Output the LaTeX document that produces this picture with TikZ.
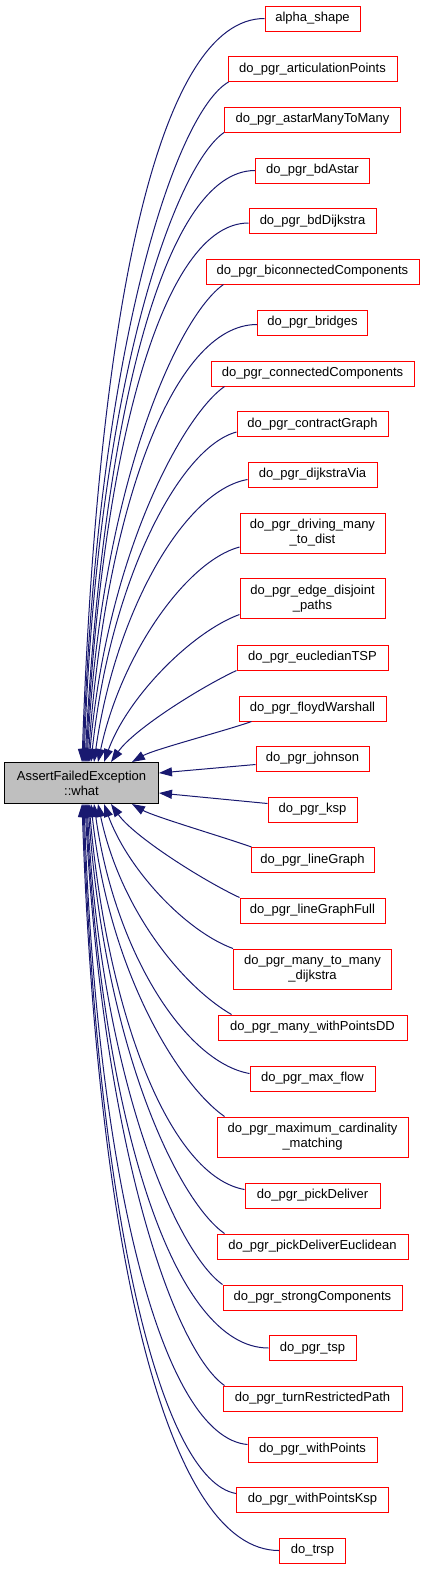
\documentclass[tikz,border=0pt]{standalone}
\usepackage{fontspec}
\setmainfont{Liberation Sans}
\usepackage{tikz}
\usetikzlibrary{arrows.meta, positioning}
\definecolor{edgeblue}{RGB}{25,25,112}
\definecolor{boxred}{RGB}{255,0,0}
\definecolor{boxgray}{RGB}{191,191,191}
\tikzset{
  fnbox/.style={rectangle, draw=boxred, fill=white, line width=1pt,
    minimum height=25pt, inner sep=0pt, align=center,
    font=\fontsize{13}{15}\selectfont},
  fnboxtwo/.style={fnbox, minimum height=40pt},
  mainbox/.style={rectangle, draw=black, fill=boxgray, line width=1pt,
    minimum height=41pt, inner sep=0pt, align=center,
    font=\fontsize{13}{15}\selectfont},
  calledge/.style={-{Triangle[length=13pt,width=9pt]}, line width=1pt, color=edgeblue}
}
\begin{document}
\begin{tikzpicture}[x=1pt, y=1pt]
  \useasboundingbox (0,0) rectangle (424,-1569);

  % Called function
  \node[mainbox, minimum width=154pt] (what) at (81.5,-783) {AssertFailedException\\::what};

  % Callers
  \node[fnbox, minimum width=95pt] (alpha) at (312.5,-18.5) {alpha\_shape};
  \node[fnbox, minimum width=169pt] (artic) at (312.5,-69) {do\_pgr\_articulationPoints};
  \node[fnbox, minimum width=176pt] (astar) at (312.5,-119.5) {do\_pgr\_astarManyToMany};
  \node[fnbox, minimum width=114pt] (bdastar) at (312.5,-170.5) {do\_pgr\_bdAstar};
  \node[fnbox, minimum width=127pt] (bddijk) at (312.5,-221) {do\_pgr\_bdDijkstra};
  \node[fnbox, minimum width=213pt] (biconn) at (312.5,-271.5) {do\_pgr\_biconnectedComponents};
  \node[fnbox, minimum width=110pt] (bridges) at (312.5,-322.5) {do\_pgr\_bridges};
  \node[fnbox, minimum width=203pt] (conncomp) at (312.5,-373.5) {do\_pgr\_connectedComponents};
  \node[fnbox, minimum width=151pt] (contract) at (312.5,-424) {do\_pgr\_contractGraph};
  \node[fnbox, minimum width=129pt] (dijkvia) at (312.5,-474.5) {do\_pgr\_dijkstraVia};
  \node[fnboxtwo, minimum width=145pt] (driving) at (312.5,-533) {do\_pgr\_driving\_many\\\_to\_dist};
  \node[fnboxtwo, minimum width=145pt] (edgedisj) at (312.5,-598.5) {do\_pgr\_edge\_disjoint\\\_paths};
  \node[fnbox, minimum width=151pt] (euclid) at (312.5,-657.5) {do\_pgr\_eucledianTSP};
  \node[fnbox, minimum width=147pt] (floyd) at (312.5,-708.5) {do\_pgr\_floydWarshall};
  \node[fnbox, minimum width=113pt] (johnson) at (312.5,-758.5) {do\_pgr\_johnson};
  \node[fnbox, minimum width=89pt] (ksp) at (312.5,-809.5) {do\_pgr\_ksp};
  \node[fnbox, minimum width=123pt] (linegraph) at (312.5,-860) {do\_pgr\_lineGraph};
  \node[fnbox, minimum width=145pt] (linegraphfull) at (312.5,-910.5) {do\_pgr\_lineGraphFull};
  \node[fnboxtwo, minimum width=158pt] (manydijk) at (312.5,-969) {do\_pgr\_many\_to\_many\\\_dijkstra};
  \node[fnbox, minimum width=189pt] (manywp) at (312.5,-1027.5) {do\_pgr\_many\_withPointsDD};
  \node[fnbox, minimum width=125pt] (maxflow) at (312.5,-1078.5) {do\_pgr\_max\_flow};
  \node[fnboxtwo, minimum width=191pt] (maxcard) at (312.5,-1137) {do\_pgr\_maximum\_cardinality\\\_matching};
  \node[fnbox, minimum width=135pt] (pickdel) at (312.5,-1195.5) {do\_pgr\_pickDeliver};
  \node[fnbox, minimum width=191pt] (pickdeleuc) at (312.5,-1246.5) {do\_pgr\_pickDeliverEuclidean};
  \node[fnbox, minimum width=179pt] (strongcomp) at (312.5,-1297.5) {do\_pgr\_strongComponents};
  \node[fnbox, minimum width=87pt] (tsp) at (312.5,-1348) {do\_pgr\_tsp};
  \node[fnbox, minimum width=179pt] (turnrestr) at (312.5,-1398.5) {do\_pgr\_turnRestrictedPath};
  \node[fnbox, minimum width=129pt] (withpts) at (312.5,-1449.5) {do\_pgr\_withPoints};
  \node[fnbox, minimum width=152pt] (withptsksp) at (312.5,-1499.5) {do\_pgr\_withPointsKsp};
  \node[fnbox, minimum width=66pt] (trsp) at (312.5,-1550.5) {do\_trsp};

  % Calls into the top side
  \draw[calledge] (alpha.west) to[out=180, in=88, out distance=105pt, in distance=460pt] ([xshift=78pt]what.north west);
  \draw[calledge] ([xshift=1pt]artic.south west) to[out=210, in=88, out distance=60pt, in distance=420pt] ([xshift=79pt]what.north west);
  \draw[calledge] (astar.south west) to[out=215, in=88, out distance=60pt, in distance=380pt] ([xshift=80pt]what.north west);
  \draw[calledge] (bdastar.west) to[out=180, in=87, out distance=90pt, in distance=350pt] ([xshift=81pt]what.north west);
  \draw[calledge] ([yshift=-2pt]bddijk.west) to[out=180, in=87, out distance=85pt, in distance=320pt] ([xshift=82pt]what.north west);
  \draw[calledge] ([xshift=18pt]biconn.south west) to[out=215, in=87, out distance=55pt, in distance=280pt] ([xshift=83pt]what.north west);
  \draw[calledge] ([yshift=-2pt]bridges.west) to[out=180, in=86, out distance=85pt, in distance=250pt] ([xshift=84pt]what.north west);
  \draw[calledge] ([xshift=14pt]conncomp.south west) to[out=215, in=85, out distance=50pt, in distance=210pt] ([xshift=85pt]what.north west);
  \draw[calledge] ([yshift=-8pt]contract.west) to[out=195, in=84, out distance=60pt, in distance=180pt] ([xshift=87pt]what.north west);
  \draw[calledge] ([yshift=-5pt]dijkvia.west) to[out=190, in=82, out distance=65pt, in distance=150pt] ([xshift=90pt]what.north west);
  \draw[calledge] ([yshift=-14pt]driving.west) to[out=195, in=78, out distance=55pt, in distance=110pt] ([xshift=94pt]what.north west);
  \draw[calledge] ([yshift=-16pt]edgedisj.west) to[out=200, in=70, out distance=50pt, in distance=70pt] ([xshift=100pt]what.north west);
  \draw[calledge] (euclid.south west) to[out=205, in=55, out distance=40pt, in distance=40pt] ([xshift=107pt]what.north west);
  \draw[calledge] ([xshift=13pt]floyd.south west) to[out=200, in=30, out distance=25pt, in distance=25pt] ([xshift=128pt]what.north west);

  % Calls into the right side
  \draw[calledge] ([yshift=-6pt]johnson.west) -- ([yshift=10pt]what.east);
  \draw[calledge] ([yshift=6pt]ksp.west) -- ([yshift=-10pt]what.east);

  % Calls into the bottom side
  \draw[calledge] ([xshift=1pt]linegraph.north west) to[out=160, in=-30, out distance=25pt, in distance=25pt] ([xshift=128pt]what.south west);
  \draw[calledge] (linegraphfull.north west) to[out=155, in=-55, out distance=40pt, in distance=40pt] ([xshift=107pt]what.south west);
  \draw[calledge] (manydijk.north west) to[out=160, in=-70, out distance=50pt, in distance=70pt] ([xshift=100pt]what.south west);
  \draw[calledge] ([xshift=14pt]manywp.north west) to[out=150, in=-78, out distance=55pt, in distance=110pt] ([xshift=94pt]what.south west);
  \draw[calledge] ([yshift=5pt]maxflow.west) to[out=170, in=-82, out distance=65pt, in distance=150pt] ([xshift=90pt]what.south west);
  \draw[calledge] ([xshift=8pt]maxcard.north west) to[out=145, in=-84, out distance=55pt, in distance=170pt] ([xshift=87pt]what.south west);
  \draw[calledge] ([yshift=6pt]pickdel.west) to[out=170, in=-85, out distance=75pt, in distance=215pt] ([xshift=85pt]what.south west);
  \draw[calledge] ([xshift=8pt]pickdeleuc.north west) to[out=145, in=-86, out distance=55pt, in distance=250pt] ([xshift=84pt]what.south west);
  \draw[calledge] (strongcomp.north west) to[out=145, in=-87, out distance=55pt, in distance=280pt] ([xshift=83pt]what.south west);
  \draw[calledge] (tsp.west) to[out=180, in=-87, out distance=95pt, in distance=320pt] ([xshift=82pt]what.south west);
  \draw[calledge] ([xshift=2pt]turnrestr.north west) to[out=145, in=-87, out distance=60pt, in distance=350pt] ([xshift=81pt]what.south west);
  \draw[calledge] ([yshift=5pt]withpts.west) to[out=175, in=-88, out distance=85pt, in distance=380pt] ([xshift=80pt]what.south west);
  \draw[calledge] ([yshift=6pt]withptsksp.west) to[out=170, in=-88, out distance=75pt, in distance=420pt] ([xshift=79pt]what.south west);
  \draw[calledge] (trsp.west) to[out=180, in=-88, out distance=110pt, in distance=460pt] ([xshift=78pt]what.south west);
\end{tikzpicture}
\end{document}
